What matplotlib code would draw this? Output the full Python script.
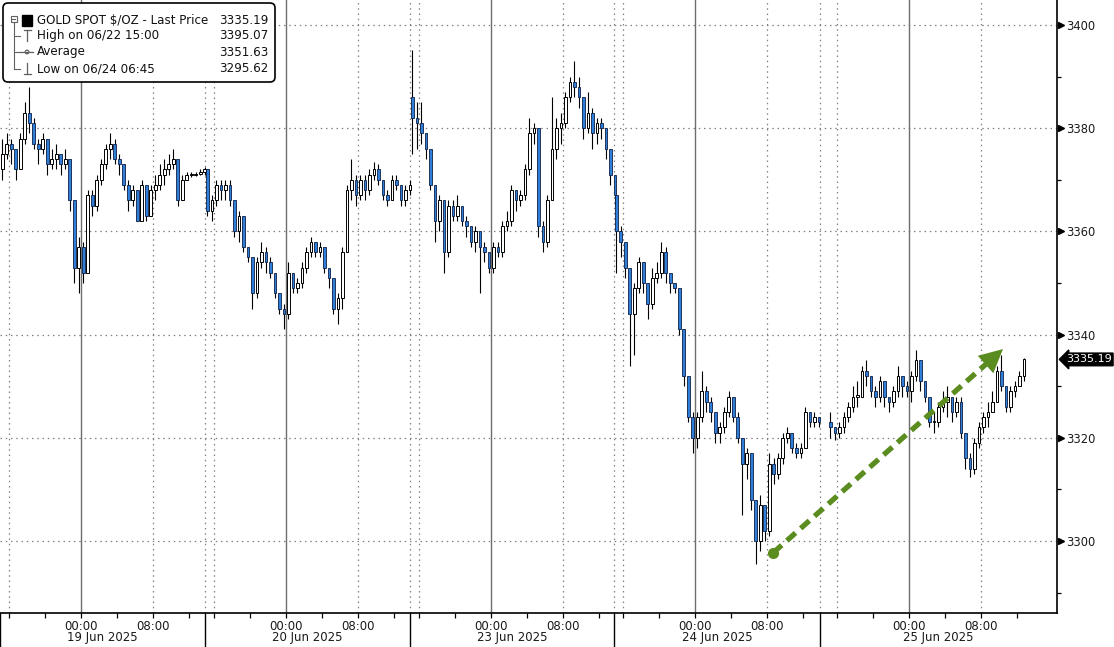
import matplotlib
matplotlib.use("Agg")
import matplotlib.pyplot as plt
import matplotlib.transforms as mtransforms
from matplotlib.patches import FancyBboxPatch, Rectangle, Circle
import numpy as np

# ---------------- data (30-minute bars) ----------------
SESSION_LABELS = ["19 Jun 2025", "20 Jun 2025", "23 Jun 2025", "24 Jun 2025", "25 Jun 2025"]
SESSION_OPEN = [3372, 3372, 3386, 3367, 3323]

CLOSE_S1 = [3375, 3377, 3376, 3372, 3378, 3383, 3381, 3377, 3376, 3378,
            3373, 3374, 3375, 3373, 3374, 3366, 3353, 3357, 3352, 3367,
            3365, 3370, 3373, 3376, 3377, 3374, 3373, 3369, 3366, 3368,
            3362, 3369, 3363, 3368, 3369, 3371, 3372, 3373, 3374, 3366,
            3370, 3371, 3371, 3371.2, 3371.5, 3372]
HIGH_S1 = [3378, 3379, 3378, 3376, 3379, 3385, 3388, 3382, 3378, 3379,
           3378, 3376, 3377, 3375, 3376, 3374, 3366, 3359, 3358, 3368,
           3368, 3371, 3374, 3377, 3379, 3378, 3375, 3373, 3370, 3369,
           3368, 3370, 3369, 3369, 3371, 3373, 3374, 3375, 3376, 3374,
           3371, 3371.5, 3371.5, 3371.6, 3372, 3372.5]
LOW_S1 = [3370, 3374, 3373, 3370, 3372, 3377, 3379, 3376, 3373, 3375,
          3371, 3372, 3372, 3371, 3372, 3364, 3350, 3348, 3350, 3352,
          3363, 3364, 3369, 3372, 3374, 3373, 3371, 3368, 3364, 3365,
          3362, 3362, 3362, 3363, 3366, 3368, 3369, 3371, 3372, 3365,
          3366, 3370, 3370.5, 3370.8, 3371, 3371]

CLOSE_S2 = [3364, 3366, 3369, 3368, 3369, 3366, 3360, 3363, 3357, 3355,
            3348, 3354, 3356, 3354, 3352, 3348, 3345, 3344, 3352, 3349,
            3350, 3353, 3356, 3358, 3356, 3357, 3353, 3351, 3345, 3347,
            3356, 3368, 3370, 3367, 3370, 3368, 3371, 3372, 3370, 3367,
            3366, 3370, 3369, 3366, 3368, 3369]
HIGH_S2 = [3372, 3367, 3370, 3370, 3370, 3370, 3366, 3364, 3363, 3357,
           3355, 3355, 3358, 3357, 3355, 3352, 3348, 3346, 3354, 3352,
           3351, 3354, 3357, 3359, 3358, 3358, 3357, 3353, 3351, 3348,
           3357, 3369, 3374, 3371, 3371, 3371, 3372, 3373.5, 3373, 3370,
           3368, 3371, 3371, 3369, 3369, 3370]
LOW_S2 = [3363, 3362, 3365, 3366, 3366, 3365, 3359, 3358, 3356, 3354,
          3345, 3347, 3353, 3352, 3351, 3347, 3344, 3341, 3343, 3348,
          3348, 3349, 3352, 3355, 3355, 3355, 3352, 3349, 3344, 3342,
          3345, 3356, 3366, 3365, 3366, 3366, 3367, 3370, 3369, 3366,
          3365, 3366, 3368, 3365, 3365, 3367]

CLOSE_S3 = [3382, 3381, 3379, 3376, 3369, 3362, 3366, 3356, 3365, 3363,
            3365, 3362, 3361, 3358, 3360, 3357, 3356, 3353, 3357, 3356,
            3361, 3362, 3368, 3366, 3367, 3372, 3379, 3380, 3361, 3358,
            3366, 3376, 3380, 3381, 3386, 3389, 3388, 3386, 3380, 3383,
            3379, 3381, 3380, 3376, 3371, 3367]
HIGH_S3 = [3395.07, 3385, 3385, 3379, 3376, 3369, 3367, 3366, 3366, 3366,
           3367, 3365, 3363, 3361, 3361, 3360, 3358, 3356, 3358, 3358,
           3362, 3364, 3369, 3368, 3368, 3373, 3382, 3381, 3380, 3362,
           3367, 3386, 3382, 3383, 3387, 3390, 3393, 3390, 3386, 3387,
           3384, 3382, 3382, 3380, 3376, 3371]
LOW_S3 = [3375, 3376, 3377, 3374, 3368, 3358, 3360, 3352, 3355, 3362,
          3362, 3361, 3359, 3357, 3356, 3348, 3354, 3352, 3352, 3355,
          3355, 3360, 3361, 3364, 3365, 3366, 3371, 3377, 3359, 3356,
          3357, 3366, 3374, 3377, 3380, 3385, 3386, 3384, 3378, 3379,
          3376, 3377, 3378, 3374, 3369, 3365]

CLOSE_S4 = [3360, 3358, 3353, 3344, 3349, 3354, 3350, 3346, 3351, 3352,
            3356, 3352, 3350, 3349, 3341, 3332, 3324, 3320, 3324, 3329,
            3327, 3325, 3321, 3322, 3325, 3328, 3324, 3320, 3315, 3317,
            3308, 3300, 3307, 3302, 3315, 3313, 3316, 3320, 3321, 3318,
            3317, 3318, 3325, 3323, 3324, 3323]
HIGH_S4 = [3367, 3361, 3358, 3353, 3350, 3355, 3354, 3350, 3353, 3354,
           3358, 3357, 3352, 3350, 3349, 3341, 3332, 3325, 3325, 3333,
           3330, 3328, 3325, 3323, 3326, 3329, 3328, 3325, 3320, 3318,
           3317, 3308, 3309, 3307, 3317, 3316, 3317, 3321, 3322, 3321,
           3319, 3319, 3326, 3325, 3325, 3324]
LOW_S4 = [3352, 3355, 3351, 3334, 3336, 3348, 3348, 3343, 3345, 3350,
          3351, 3350, 3348, 3348, 3340, 3330, 3323, 3317, 3318, 3323,
          3325, 3323, 3319, 3319, 3321, 3324, 3323, 3319, 3305, 3312,
          3306, 3295.62, 3298, 3300, 3301, 3311, 3312, 3315, 3319, 3317,
          3316, 3316, 3318, 3322, 3322, 3322]

CLOSE_S5 = [3322, 3321, 3322, 3324, 3326, 3328, 3328, 3333, 3332, 3329,
            3328, 3331, 3328, 3327, 3329, 3332, 3330, 3329, 3332, 3335,
            3331, 3328, 3323, 3323, 3326, 3327, 3328, 3325, 3327, 3321,
            3316, 3314, 3319, 3322, 3324, 3325, 3327, 3333, 3330, 3326,
            3329, 3330, 3332, 3335.19]
HIGH_S5 = [3325, 3322, 3323, 3325, 3327, 3330, 3331, 3334, 3335, 3332,
           3330, 3332, 3331, 3328, 3330, 3334, 3332, 3331, 3333, 3337,
           3335, 3331, 3328, 3325, 3327, 3329, 3330, 3328, 3328, 3328,
           3321, 3317, 3320, 3323, 3325, 3327, 3329, 3334, 3336, 3330,
           3330, 3331, 3333, 3335.5]
LOW_S5 = [3320, 3319.5, 3320, 3321, 3323, 3325, 3326, 3328, 3330, 3328,
          3326, 3327, 3326, 3325, 3326, 3328, 3328, 3328, 3327, 3331,
          3329, 3327, 3322, 3321, 3322, 3325, 3324, 3323, 3324, 3320,
          3314, 3312.4, 3313, 3318, 3321, 3322, 3325, 3327, 3329, 3325,
          3325, 3328, 3330, 3331]

CLOSES = [CLOSE_S1, CLOSE_S2, CLOSE_S3, CLOSE_S4, CLOSE_S5]
HIGHS = [HIGH_S1, HIGH_S2, HIGH_S3, HIGH_S4, HIGH_S5]
LOWS = [LOW_S1, LOW_S2, LOW_S3, LOW_S4, LOW_S5]

LEGEND_LABELS = ["GOLD SPOT $/OZ - Last Price", "High on 06/22 15:00", "Average", "Low on 06/24 06:45"]
LEGEND_VALUES = ["3335.19", "3395.07", "3351.63", "3295.62"]
LAST_PRICE = 3335.19

Y_TICKS = [3300, 3320, 3340, 3360, 3380, 3400]
Y_MINOR = [3290, 3310, 3330, 3350, 3370, 3390]

# arrow annotation: (session index, hours after session open 15:00, price)
ARROW_START = (3, 17.67, 3297.7)
ARROW_END = (4, 19.44, 3337.2)

# ---------------- layout (compressed trading-hour axis) ----------------
W, H = 1114, 647
SESSION_X0 = [0.0, 22.78, 45.56, 68.22, 92.0]
SEPARATORS = [0.0, 22.78, 45.56, 68.22, 91.11]
X_MAX = 117.44
BAR_H = 0.5
BLUE = "#2f7ed8"
GREEN = "#5b8c1f"
FS = 8.5

fig = plt.figure(figsize=(W / 100, H / 100), dpi=100, facecolor="white")
ax = fig.add_axes([0, 34 / H, 1057 / W, 613 / H])
ax.set_xlim(0, X_MAX)
ax.set_ylim(3286.05, 3404.84)

# candles
for s in range(5):
    c = np.array(CLOSES[s], dtype=float)
    hi = np.array(HIGHS[s], dtype=float)
    lo = np.array(LOWS[s], dtype=float)
    o = np.concatenate([[SESSION_OPEN[s]], c[:-1]])
    x = SESSION_X0[s] + BAR_H / 2 + BAR_H * np.arange(len(c))
    ax.vlines(x, lo, hi, color="black", lw=0.8, zorder=3)
    up = c >= o
    bottom = np.minimum(o, c)
    height = np.maximum(np.abs(c - o), 0.2)
    ax.bar(x[up], height[up], width=0.28, bottom=bottom[up], color="white",
           edgecolor="black", linewidth=0.7, zorder=4)
    ax.bar(x[~up], height[~up], width=0.28, bottom=bottom[~up], color=BLUE,
           edgecolor="#0e1f44", linewidth=0.6, zorder=4)

# grid
dot = (0, (1.2, 3))
for y in Y_TICKS:
    ax.axhline(y, color="#808080", lw=0.9, ls=dot, zorder=1)
for s in range(5):
    x0 = SESSION_X0[s]
    ax.axvline(x0 + 1, color="#808080", lw=0.9, ls=dot, zorder=1)
    ax.axvline(x0 + 17, color="#808080", lw=0.9, ls=dot, zorder=1)
    ax.axvline(x0 + 9, color="#6e6e6e", lw=1.0, zorder=1)
for sep in SEPARATORS[1:]:
    ax.axvline(sep, color="#808080", lw=0.9, ls=dot, zorder=1)

# spines
for sp in ["top", "left"]:
    ax.spines[sp].set_visible(False)
for sp in ["right", "bottom"]:
    ax.spines[sp].set_color("black")
    ax.spines[sp].set_linewidth(1.2)

# y axis on right
ax.yaxis.tick_right()
ax.set_yticks(Y_TICKS)
ax.set_yticklabels([str(v) for v in Y_TICKS])
ax.set_yticks(Y_MINOR, minor=True)
ax.tick_params(axis="y", which="major", length=0, pad=6.5, labelsize=8.3, labelcolor="#1a1a1a")
ax.tick_params(axis="y", which="minor", length=3, width=0.9, direction="out", color="black")
ytrans = mtransforms.blended_transform_factory(ax.transAxes, ax.transData)
ax.plot([1.0042] * len(Y_TICKS), Y_TICKS, ls="none", marker=">", ms=5, color="black",
        transform=ytrans, clip_on=False, zorder=10)

# x axis
xmaj, xlab, xmin = [], [], []
for s in range(5):
    x0 = SESSION_X0[s]
    xmaj += [x0 + 9, x0 + 17]
    xlab += ["00:00", "08:00"]
    xmin += [x0 + 1, x0 + 5, x0 + 13, x0 + 21]
ax.set_xticks(xmaj)
ax.set_xticklabels(xlab)
ax.set_xticks([v for v in xmin if v < X_MAX], minor=True)
ax.tick_params(axis="x", which="both", length=3.5, width=0.9, direction="out", color="black",
               pad=1.5, labelsize=FS, labelcolor="#1a1a1a")

xtrans = mtransforms.blended_transform_factory(ax.transData, ax.transAxes)
ends = SEPARATORS[1:] + [X_MAX]
for i, lab in enumerate(SESSION_LABELS):
    ax.text((SEPARATORS[i] + ends[i]) / 2, -25 / 613, lab, transform=xtrans,
            ha="center", va="center", fontsize=FS, color="#1a1a1a")
for sep in SEPARATORS:
    ax.plot([sep, sep], [0, -34 / 613], transform=xtrans, color="black", lw=1.0, clip_on=False)

# last price tag
ax.text(1.0 + 9 / 1057, LAST_PRICE, f"{LAST_PRICE:.2f}", transform=ytrans, color="white",
        fontsize=8.0, ha="left", va="center", zorder=11,
        bbox=dict(boxstyle="larrow,pad=0.12", fc="black", ec="black"))

# green trend arrow
xa = SESSION_X0[ARROW_START[0]] + ARROW_START[1]
ya = ARROW_START[2]
xb = SESSION_X0[ARROW_END[0]] + ARROW_END[1]
yb = ARROW_END[2]
f = 0.945
xs, ys = xa + f * (xb - xa), ya + f * (yb - ya)
ax.plot([xa, xs], [ya, ys], color=GREEN, lw=3.8, ls=(0, (2.2, 1.3)), solid_capstyle="butt",
        dash_capstyle="butt", zorder=7)
ax.plot([xa], [ya], marker="o", ms=7, color=GREEN, zorder=8)
xh, yh = xa + 0.9 * (xb - xa), ya + 0.9 * (yb - ya)
ax.annotate("", xy=(xb, yb), xytext=(xh, yh),
            arrowprops=dict(arrowstyle="-|>,head_length=1.4,head_width=0.7", mutation_scale=12,
                            color=GREEN, lw=0, shrinkA=0, shrinkB=0), zorder=8)

# legend box (pixel overlay)
ov = fig.add_axes([0, 0, 1, 1], zorder=5)
ov.set_xlim(0, W)
ov.set_ylim(H, 0)
ov.axis("off")
ov.patch.set_alpha(0)
ov.add_patch(FancyBboxPatch((3, 3), 272, 79, boxstyle="round,pad=0,rounding_size=5",
                            fc="white", ec="black", lw=1.2))
LFS = 8.6
rows_y = [20.5, 35.5, 52, 69]
for ytxt, lab, val in zip(rows_y, LEGEND_LABELS, LEGEND_VALUES):
    ov.text(37, ytxt, lab, ha="left", va="center", fontsize=LFS, color="#111111")
    ov.text(268, ytxt, val, ha="right", va="center", fontsize=LFS, color="#111111")
g = "#606060"
ov.add_patch(Rectangle((10.5, 15.5), 6, 6, fill=False, ec=g, lw=0.8))
ov.plot([12, 15], [18.5, 18.5], color=g, lw=0.8)
ov.add_patch(Rectangle((21.5, 14.5), 10.5, 11, fc="black", ec="black"))
ov.plot([13.5, 13.5], [21.5, 69], color=g, lw=0.8)
for yb_ in rows_y[1:]:
    ov.plot([13.5, 20], [yb_, yb_], color=g, lw=0.8)
ov.plot([23.5, 30.5], [30, 30], color=g, lw=0.9)
ov.plot([27, 27], [30, 41], color=g, lw=0.9)
ov.plot([20, 33], [52, 52], color=g, lw=0.9)
ov.add_patch(Circle((27, 52), 1.8, fc="white", ec=g, lw=0.9))
ov.plot([27, 27], [63, 74], color=g, lw=0.9)
ov.plot([23.5, 30.5], [74, 74], color=g, lw=0.9)

fig.savefig("out.png", dpi=100, facecolor="white")
